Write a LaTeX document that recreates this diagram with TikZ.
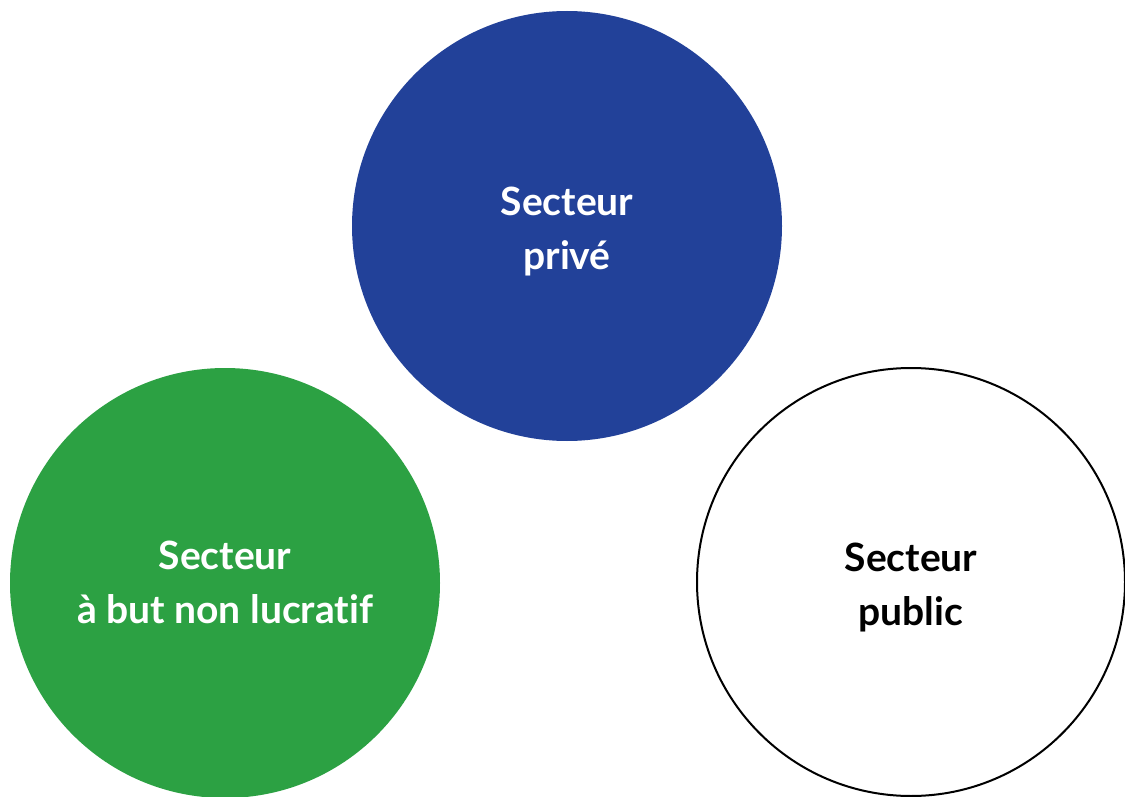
\documentclass[tikz,border=0pt]{standalone}
\usepackage{fontspec}
\setmainfont{Lato}[Ligatures=NoCommon]
\definecolor{privblue}{RGB}{34,65,153}
\definecolor{nplgreen}{RGB}{44,161,67}
\begin{document}
\begin{tikzpicture}[x=1pt,y=-1pt,
  sector/.style={circle,minimum size=430pt,inner sep=0pt,outer sep=0pt},
  sectortext/.style={inner sep=0pt,align=center,font=\fontsize{39}{54}\selectfont\bfseries},
]
\useasboundingbox[fill=white] (0,0) rectangle (1125,797);
\node[sector,fill=privblue] (prive) at (567,226) {};
\node[sector,fill=nplgreen] (npl) at (225,583) {};
\node[sector,draw=black,line width=2pt,minimum size=428pt] (public) at (911,582) {};
\node[sectortext,text=white] (prive-t) at ([yshift=-6pt]prive.center) {Secteur\\privé};
\node[sectortext,text=white] (npl-t) at ([yshift=1pt]npl.center) {Secteur\\à but non lucratif};
\node[sectortext,text=black] (public-t) at ([yshift=-6pt]public.center) {Secteur\\public};
\end{tikzpicture}
\end{document}
